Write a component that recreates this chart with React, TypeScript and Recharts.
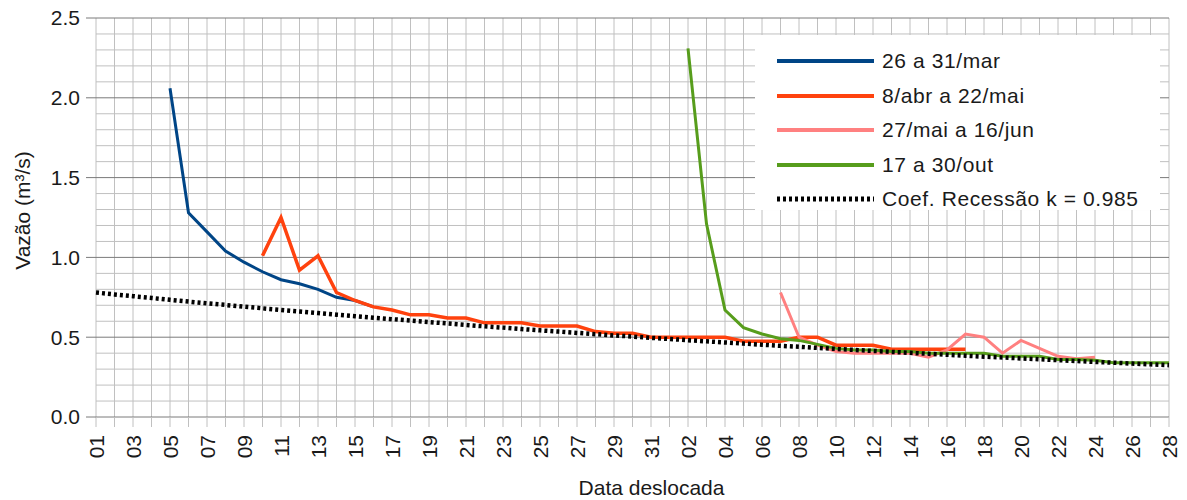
import React from "react";
import {
  CartesianGrid,
  Label,
  Legend,
  Line,
  LineChart,
  ReferenceLine,
  XAxis,
  YAxis,
} from "recharts";

const days = [
  "01", "02", "03", "04", "05", "06", "07", "08", "09", "10",
  "11", "12", "13", "14", "15", "16", "17", "18", "19", "20",
  "21", "22", "23", "24", "25", "26", "27", "28", "29", "30", "31",
  "01", "02", "03", "04", "05", "06", "07", "08", "09", "10",
  "11", "12", "13", "14", "15", "16", "17", "18", "19", "20",
  "21", "22", "23", "24", "25", "26", "27", "28",
];

// each event: index of first point on the shifted date axis + values
const marStart = 4;
const marValues = [2.06, 1.28, 1.16, 1.04, 0.97, 0.91, 0.86, 0.835, 0.8, 0.75, 0.73, 0.69];

const abrStart = 9;
const abrValues = [
  1.01, 1.25, 0.92, 1.01, 0.78, 0.73, 0.69, 0.67, 0.64, 0.64,
  0.62, 0.62, 0.59, 0.59, 0.59, 0.57, 0.57, 0.57, 0.535, 0.525,
  0.525, 0.5, 0.5, 0.5, 0.5, 0.5, 0.475, 0.475, 0.475, 0.5,
  0.5, 0.45, 0.45, 0.45, 0.425, 0.425, 0.425, 0.425, 0.425,
];

const junStart = 37;
const junValues = [
  0.78, 0.5, 0.45, 0.41, 0.4, 0.4, 0.4, 0.4, 0.375,
  0.42, 0.52, 0.5, 0.4, 0.48, 0.43, 0.38, 0.365, 0.375,
];

const outStart = 32;
const outValues = [
  2.31, 1.21, 0.67, 0.56, 0.52, 0.49, 0.48, 0.455, 0.43, 0.42,
  0.42, 0.41, 0.41, 0.4, 0.4, 0.4, 0.4, 0.38, 0.38, 0.38,
  0.36, 0.36, 0.355, 0.34, 0.34, 0.34, 0.34,
];

const recession = [
  0.78, 0.768, 0.757, 0.746, 0.734, 0.723, 0.712, 0.702, 0.691, 0.681,
  0.671, 0.661, 0.651, 0.641, 0.632, 0.622, 0.613, 0.604, 0.595, 0.586,
  0.577, 0.568, 0.56, 0.551, 0.543, 0.535, 0.527, 0.519, 0.511, 0.504,
  0.496, 0.489, 0.481, 0.474, 0.467, 0.46, 0.453, 0.446, 0.44, 0.433,
  0.427, 0.42, 0.414, 0.408, 0.402, 0.396, 0.39, 0.384, 0.378, 0.373,
  0.367, 0.362, 0.356, 0.351, 0.345, 0.34, 0.335, 0.33, 0.325,
];

const majorTicks = [0, 0.5, 1, 1.5, 2, 2.5];
const minorTicks = [
  0.1, 0.2, 0.3, 0.4, 0.6, 0.7, 0.8, 0.9, 1.1, 1.2, 1.3, 1.4,
  1.6, 1.7, 1.8, 1.9, 2.1, 2.2, 2.3, 2.4,
];

const series = [
  { key: "mar", name: "26 a 31/mar", color: "#004586", width: 3, start: marStart, values: marValues },
  { key: "abr", name: "8/abr a 22/mai", color: "#ff420e", width: 3.5, start: abrStart, values: abrValues },
  { key: "jun", name: "27/mai a 16/jun", color: "#ff8080", width: 3, start: junStart, values: junValues },
  { key: "out", name: "17 a 30/out", color: "#579d1c", width: 3, start: outStart, values: outValues },
];
const recessionName = "Coef. Recessão k = 0.985";

const data = days.map((day, i) => {
  const row: Record<string, any> = { day, rec: recession[i] };
  series.forEach((s) => {
    const j = i - s.start;
    row[s.key] = j >= 0 && j < s.values.length ? s.values[j] : null;
  });
  return row;
});

const FONT = "'Liberation Sans', Arial, sans-serif";
const TEXT = "#1a1a1a";

function DayTick(props: any) {
  const { x, y, payload, index } = props;
  if (index % 2 !== 0) return <g />;
  return (
    <text
      transform={`translate(${x},${y}) rotate(-90)`}
      textAnchor="end"
      dominantBaseline="central"
      fontSize={21}
      fontFamily={FONT}
      fill={TEXT}
    >
      {payload.value}
    </text>
  );
}

function LegendBox() {
  const rows = [
    ...series.map((s) => ({ name: s.name, color: s.color, dash: undefined as string | undefined })),
    { name: recessionName, color: "#000", dash: "3 3" },
  ];
  return (
    <div
      style={{
        background: "#fff",
        width: 405,
        height: 175,
        paddingTop: 9,
        boxSizing: "border-box",
      }}
    >
      {rows.map((r) => (
        <div
          key={r.name}
          style={{ display: "flex", alignItems: "center", height: 34.5 }}
        >
          <svg width={97} height={10} style={{ marginLeft: 22, marginRight: 8 }}>
            <line
              x1={0}
              x2={97}
              y1={5}
              y2={5}
              stroke={r.color}
              strokeWidth={r.dash ? 5 : 4}
              strokeDasharray={r.dash}
            />
          </svg>
          <span
            style={{
              fontSize: 21,
              fontFamily: FONT,
              color: TEXT,
              whiteSpace: "nowrap",
              letterSpacing: 0.6,
            }}
          >
            {r.name}
          </span>
        </div>
      ))}
    </div>
  );
}

export default function App() {
  return (
    <div style={{ position: "absolute", left: 0, top: 0, fontFamily: FONT }}>
      <LineChart
        width={1187}
        height={500}
        data={data}
        margin={{ top: 18, right: 18, bottom: 0, left: 0 }}
      >
        <CartesianGrid vertical horizontal={false} stroke="#c0c0c0" />
        {minorTicks.map((v) => (
          <ReferenceLine key={`mi${v}`} y={v} stroke="#c0c0c0" strokeWidth={1} />
        ))}
        {majorTicks.map((v) => (
          <ReferenceLine key={`ma${v}`} y={v} stroke="#7a7a7a" strokeWidth={1} />
        ))}
        <XAxis
          dataKey="day"
          interval={0}
          height={83}
          tickSize={10}
          tickMargin={8}
          axisLine={false}
          tickLine={{ stroke: "#c0c0c0" }}
          tick={<DayTick />}
        >
          <Label
            content={(p: any) => {
              const vb = p.viewBox;
              return (
                <text
                  x={vb.x + vb.width / 2 + 19}
                  y={vb.y + 70}
                  textAnchor="middle"
                  dominantBaseline="central"
                  fontSize={21}
                  fontFamily={FONT}
                  fill={TEXT}
                >
                  Data deslocada
                </text>
              );
            }}
          />
        </XAxis>
        <YAxis
          width={96}
          domain={[0, 2.5]}
          ticks={majorTicks}
          tickFormatter={(v: number) => v.toFixed(1)}
          tickSize={10}
          tickMargin={6}
          axisLine={false}
          tickLine={{ stroke: "#7a7a7a" }}
          tick={{ fill: TEXT, fontSize: 21, fontFamily: FONT }}
        >
          <Label
            content={(p: any) => {
              const vb = p.viewBox;
              const cx = vb.x + 22;
              const cy = vb.y + vb.height / 2 - 7;
              return (
                <text
                  transform={`translate(${cx},${cy}) rotate(-90)`}
                  textAnchor="middle"
                  dominantBaseline="central"
                  fontSize={21}
                  fontFamily={FONT}
                  fill={TEXT}
                >
                  Vazão (m³/s)
                </text>
              );
            }}
          />
        </YAxis>
        <Legend
          layout="horizontal"
          verticalAlign="middle"
          align="center"
          content={() => <LegendBox />}
          wrapperStyle={{ left: 755, top: 35, width: 405, height: 175 }}
        />
        {series.map((s) => (
          <Line
            key={s.key}
            dataKey={s.key}
            name={s.name}
            type="linear"
            stroke={s.color}
            strokeWidth={s.width}
            dot={false}
            activeDot={false}
            isAnimationActive={false}
          />
        ))}
        <Line
          dataKey="rec"
          name={recessionName}
          type="linear"
          stroke="#000"
          strokeWidth={4.5}
          strokeDasharray="3 3"
          dot={false}
          activeDot={false}
          isAnimationActive={false}
        />
      </LineChart>
    </div>
  );
}
